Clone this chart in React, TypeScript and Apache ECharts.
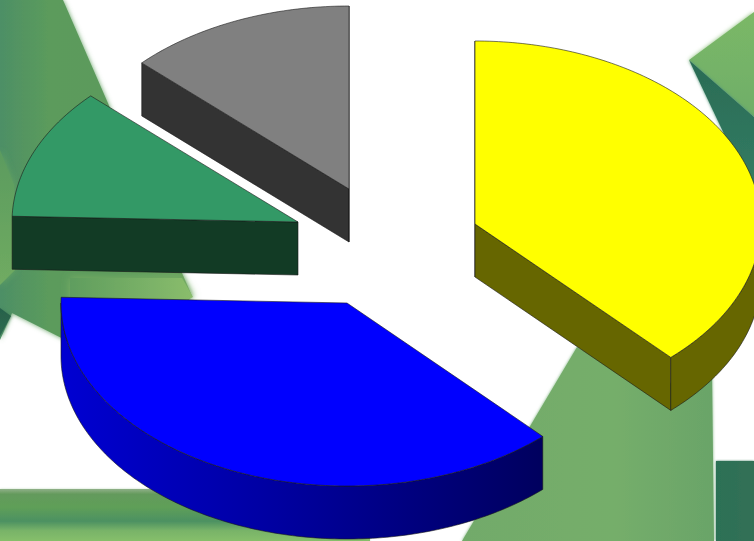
import React, { useEffect, useRef } from "react";
import * as echarts from "echarts";

// Pie shares in clockwise order, starting from twelve o'clock.
const sliceShares = [38, 37.5, 11.6, 12.9];
const topColors = ["#ffff00", "#0000ff", "#339966", "#808080"];
const wallColors = ["#666600", "#00005e", "#123b25", "#333333"];
// Exploded pivot of each slice, in pixels.
const slicePivots = [
  [475, 224],
  [347, 303],
  [298, 222],
  [349, 189],
];

const RX = 286;
const RY = 183;
const DEPTH = 53;
const OUTLINE = "#1a1a1a";
const EPS = 1e-6;

// Soft-edged shapes of the backdrop: [fill, blur, shadow colour, points].
type Patch = [any, number, string, number[][]];
const stops = (...c: [number, string][]) => c.map(([offset, color]) => ({ offset, color }));
const vert = (...c: [number, string][]) => new echarts.graphic.LinearGradient(0, 0, 0, 1, stops(...c));
const horiz = (...c: [number, string][]) => new echarts.graphic.LinearGradient(0, 0, 1, 0, stops(...c));

const backdrop: Patch[] = [
  [horiz([0, "#4d8f66"], [0.25, "#5b9b5c"], [0.6, "#5c9a5c"], [1, "#6da55f"]), 5, "#62a062",
    [[0, 0], [63, 0], [192, 296], [125, 370], [12, 313], [0, 340]]],
  [vert([0, "#5b9b5e"], [1, "#70ab62"]), 6, "#68a560", [[0, 150], [14, 185], [15, 270], [0, 285]]],
  [horiz([0, "#5f9d5e"], [1, "#8abd6c"]), 8, "#7ab066", [[70, 278], [182, 278], [193, 297], [130, 330], [70, 320]]],
  [vert([0, "#27614a"], [1, "#2f6b50"]), 3, "#3f7d5c", [[0, 308], [11, 316], [0, 336]]],
  // Horizontal band along the bottom edge.
  [vert([0, "#8fb088"], [0.1, "#649a5c"], [0.35, "#5f9f58"], [0.62, "#4c9162"], [0.8, "#78b368"], [1, "#86bf6b"]), 2, "#c4dcc0",
    [[0, 489], [370, 489], [370, 541], [0, 541]]],
  [horiz([0, "#72aa6a"], [0.6, "#75ae6b"], [1, "#6aa468"]), 3, "#7ab27c",
    [[577, 347], [650, 390], [712, 370], [714, 541], [462, 541]]],
  [horiz([0, "#2c7155"], [1, "#326f57"]), 2, "#3c7c60", [[716, 461], [754, 461], [754, 541], [716, 541]]],
  [vert([0, "#7bb866"], [1, "#6fae68"]), 4, "#8cc07a", [[689, 60], [754, 12], [754, 117]]],
  [vert([0, "#2b6b55"], [1, "#327d63"]), 3, "#4f9476", [[689, 60], [754, 117], [754, 192], [726, 138]]],
];

const rimPoint = (c: number[], t: number, drop = 0) => [
  c[0] + RX * Math.sin(t),
  c[1] - RY * Math.cos(t) + drop,
];

const sampleArc = (c: number[], from: number, to: number, drop = 0) => {
  const steps = Math.max(2, Math.ceil(Math.abs(to - from) * 60));
  const pts: number[][] = [];
  for (let i = 0; i <= steps; i++) {
    pts.push(rimPoint(c, from + ((to - from) * i) / steps, drop));
  }
  return pts;
};

const total = sliceShares.reduce((a, b) => a + b, 0);
const startAngles = sliceShares.map(
  (_, i) => (sliceShares.slice(0, i).reduce((a, b) => a + b, 0) / total) * Math.PI * 2
);

function renderSlice(params: any, api: any) {
  const i = params.dataIndex;
  const share = api.value(0);
  const a0 = startAngles[i];
  const a1 = a0 + (share / total) * Math.PI * 2;
  const c = slicePivots[i];
  const stroke = { stroke: OUTLINE, lineWidth: 0.6 };
  const children: any[] = [];

  const wall = (a: number) => {
    const p = rimPoint(c, a);
    children.push({
      type: "polygon",
      shape: { points: [c, p, [p[0], p[1] + DEPTH], [c[0], c[1] + DEPTH]] },
      style: { fill: wallColors[i], ...stroke },
    });
  };
  // A radial wall shows only when it turns towards the viewer.
  if (Math.sin(a0) <= EPS) wall(a0);
  if (Math.sin(a1) >= -EPS) wall(a1);

  // Outer rim, visible only on the near half of the ellipse.
  const r0 = Math.max(a0, Math.PI / 2);
  const r1 = Math.min(a1, Math.PI * 1.5);
  if (r1 > r0) {
    const top = sampleArc(c, r0, r1);
    const bottom = sampleArc(c, r0, r1, DEPTH).reverse();
    const fill =
      i === 1
        ? horiz([0, "#0000d2"], [0.45, "#0000a0"], [1, "#00005e"])
        : wallColors[i];
    children.push({
      type: "polygon",
      shape: { points: [...top, ...bottom] },
      style: { fill, ...stroke },
    });
  }

  // Lid of the slice.
  children.push({
    type: "polygon",
    shape: { points: [c, ...sampleArc(c, a0, a1)] },
    style: { fill: topColors[i], ...stroke },
  });

  return { type: "group", children };
}

export default function App() {
  const ref = useRef<HTMLDivElement>(null);

  useEffect(() => {
    const chart = echarts.init(ref.current!, null, { renderer: "svg" });
    chart.setOption({
      animation: false,
      backgroundColor: "#ffffff",
      graphic: {
        elements: backdrop.map(([fill, blur, shadowColor, points]) => ({
          type: "polygon",
          z: 0,
          silent: true,
          shape: { points },
          style: { fill, shadowBlur: blur, shadowColor },
        })),
      },
      series: [
        {
          type: "custom",
          coordinateSystem: "none",
          z: 5,
          silent: true,
          renderItem: renderSlice,
          data: sliceShares.map((v) => [v]),
        },
      ],
    });
    return () => chart.dispose();
  }, []);

  return (
    <div
      ref={ref}
      style={{ position: "fixed", left: 0, top: 0, width: 754, height: 541 }}
    />
  );
}
